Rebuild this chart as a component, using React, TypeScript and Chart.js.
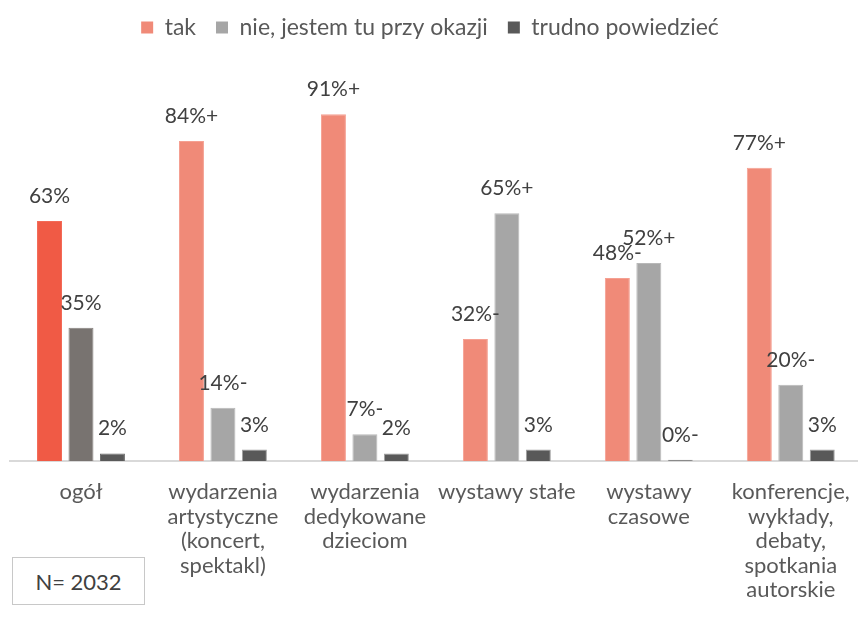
import React, { useEffect, useRef } from "react";
import { Chart, registerables } from "chart.js";

Chart.register(...registerables);

const categories: string[][] = [
  ["ogół"],
  ["wydarzenia", "artystyczne", "(koncert,", "spektakl)"],
  ["wydarzenia", "dedykowane", "dzieciom"],
  ["wystawy stałe"],
  ["wystawy", "czasowe"],
  ["konferencje,", "wykłady,", "debaty,", "spotkania", "autorskie"],
];

const seriesNames = ["tak", "nie, jestem tu przy okazji", "trudno powiedzieć"];

const takValues = [63, 84, 91, 32, 48, 77];
const nieValues = [35, 14, 7, 65, 52, 20];
const trudnoValues = [2, 3, 2, 3, 0.3, 3];

const takSuffix = ["", "+", "+", "-", "-", "+"];
const nieSuffix = ["", "-", "-", "+", "+", "-"];
const trudnoSuffix = ["", "", "", "", "-", ""];

const sampleNote = "N= 2032";

const FONT = "Lato, 'DejaVu Sans', sans-serif";

export default function App() {
  const ref = useRef<HTMLCanvasElement | null>(null);

  useEffect(() => {
    if (!ref.current) return;

    const firstColor = (first: string, rest: string) => (ctx: any) =>
      ctx && ctx.type === "data" && ctx.dataIndex === 0 ? first : rest;

    const suffixes = [takSuffix, nieSuffix, trudnoSuffix];

    const legendTweak = {
      id: "legendTweak",
      beforeInit(chart: any) {
        const legend = chart.legend;
        if (!legend) return;
        const origFit = legend.fit;
        legend.fit = function () {
          origFit.call(this);
          this.height = 75;
        };
      },
      afterLayout(chart: any) {
        const legend = chart.legend;
        if (!legend) return;
        legend.left -= 8;
        legend.right -= 8;
        legend.top -= 9;
        legend.bottom -= 9;
      },
    };

    const dataLabels = {
      id: "dataLabels",
      afterDatasetsDraw(chart: any) {
        const ctx = chart.ctx;
        ctx.save();
        ctx.font = `21px ${FONT}`;
        ctx.fillStyle = "#404040";
        ctx.textAlign = "center";
        ctx.textBaseline = "alphabetic";
        chart.data.datasets.forEach((ds: any, di: number) => {
          const meta = chart.getDatasetMeta(di);
          meta.data.forEach((el: any, i: number) => {
            const v = ds.data[i];
            const text = Math.round(v) + "%" + suffixes[di][i];
            ctx.fillText(text, el.x, el.y - 18);
          });
        });
        ctx.restore();
      },
    };

    const chart = new Chart(ref.current, {
      type: "bar",
      data: {
        labels: categories,
        datasets: [
          {
            label: seriesNames[0],
            data: takValues,
            backgroundColor: firstColor("#F05A45", "#F08A78"),
            borderColor: firstColor("#F36A57", "#F5A092"),
            borderWidth: 1,
          },
          {
            label: seriesNames[1],
            data: nieValues,
            backgroundColor: firstColor("#787370", "#A6A6A6"),
            borderColor: firstColor("#86817E", "#B8B8B8"),
            borderWidth: 1,
          },
          {
            label: seriesNames[2],
            data: trudnoValues,
            backgroundColor: "#595959",
            borderColor: firstColor("#6A6A6A", "#A0A0A0"),
            borderWidth: 1,
          },
        ],
      },
      options: {
        responsive: false,
        animation: false,
        events: [],
        layout: { padding: { top: 5, left: 10, right: 3, bottom: 0 } },
        datasets: {
          bar: { categoryPercentage: 0.665, barPercentage: 0.794 },
        },
        plugins: {
          legend: {
            position: "top",
            labels: {
              boxWidth: 12,
              boxHeight: 12,
              padding: 20,
              color: "#595959",
              font: { family: FONT, size: 23 },
              generateLabels(chart: any) {
                const fills = ["#F08A78", "#A6A6A6", "#595959"];
                return chart.data.datasets.map((ds: any, i: number) => ({
                  text: ds.label,
                  fillStyle: fills[i],
                  strokeStyle: fills[i],
                  lineWidth: 0,
                  fontColor: "#595959",
                  hidden: false,
                  datasetIndex: i,
                }));
              },
            },
          },
          tooltip: { enabled: false },
          title: { display: false },
        },
        scales: {
          x: {
            grid: { display: false, drawTicks: false },
            border: { display: true, color: "#D9D9D9", width: 2 },
            ticks: {
              color: "#595959",
              font: { family: FONT, size: 22, lineHeight: 1.11 },
              padding: 19,
              maxRotation: 0,
              autoSkip: false,
            },
            afterFit(scale: any) {
              scale.height = 156;
            },
          },
          y: {
            display: false,
            min: 0,
            max: 100,
          },
        },
      },
      plugins: [legendTweak, dataLabels],
    } as any);

    return () => chart.destroy();
  }, []);

  return (
    <div
      style={{
        position: "fixed",
        left: 0,
        top: 0,
        width: 858,
        height: 617,
        overflow: "hidden",
        background: "#ffffff",
      }}
    >
      <canvas
        ref={ref}
        width={869}
        height={617}
        style={{ position: "absolute", left: 0, top: 0, width: 869, height: 617 }}
      />
      <div
        style={{
          position: "absolute",
          left: 12,
          top: 557,
          width: 131,
          height: 46,
          border: "1px solid #C8C8C8",
          display: "flex",
          alignItems: "center",
          justifyContent: "center",
          fontFamily: FONT,
          fontSize: 22,
          color: "#404040",
          background: "#ffffff",
        }}
      >
        {sampleNote}
      </div>
    </div>
  );
}
